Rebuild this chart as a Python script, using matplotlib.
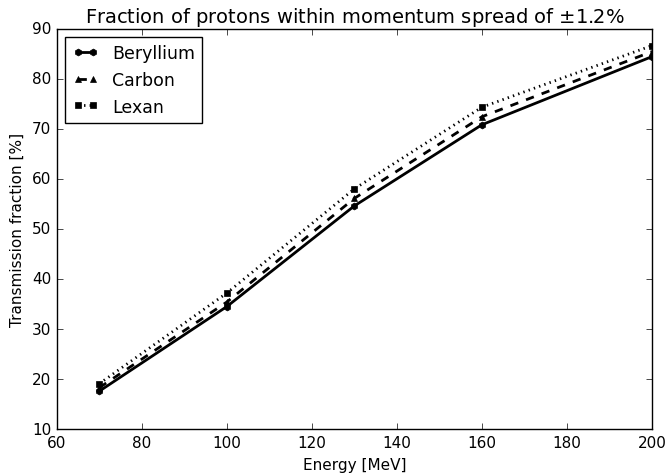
import matplotlib
matplotlib.use('Agg')
from matplotlib import pyplot as plt

energy = [70, 100, 130, 160, 200]
beryllium = [17.6, 34.5, 54.6, 70.8, 84.4]
carbon = [18.3, 35.4, 56.1, 72.4, 85.4]
lexan = [19.1, 37.2, 58.0, 74.3, 86.6]

plt.style.use('classic')
plt.rcParams['mathtext.fontset'] = 'dejavusans'
fig = plt.figure(figsize=(6.68, 4.77), dpi=100)
ax = fig.add_axes([0.085, 0.098, 0.891, 0.84])

ax.plot(energy, beryllium, 'k-', marker='h', markersize=5, linewidth=2, label='Beryllium')
ax.plot(energy, carbon, 'k--', marker='^', markersize=5, linewidth=2, label='Carbon')
ax.plot(energy, lexan, 'k:', marker='s', markersize=5, linewidth=2, label='Lexan')

ax.set_xlim(60, 200)
ax.set_ylim(10, 90)
ax.tick_params(labelsize=11)
ax.set_xlabel('Energy [MeV]', fontsize=11)
ax.set_ylabel('Transmission fraction [%]', fontsize=11)
ax.set_title(r'Fraction of protons within momentum spread of $\pm1.2\%$', fontsize=14)
ax.legend(loc='upper left', fontsize=12.5, numpoints=2, handlelength=1.5)

fig.savefig('out.png', dpi=100)
